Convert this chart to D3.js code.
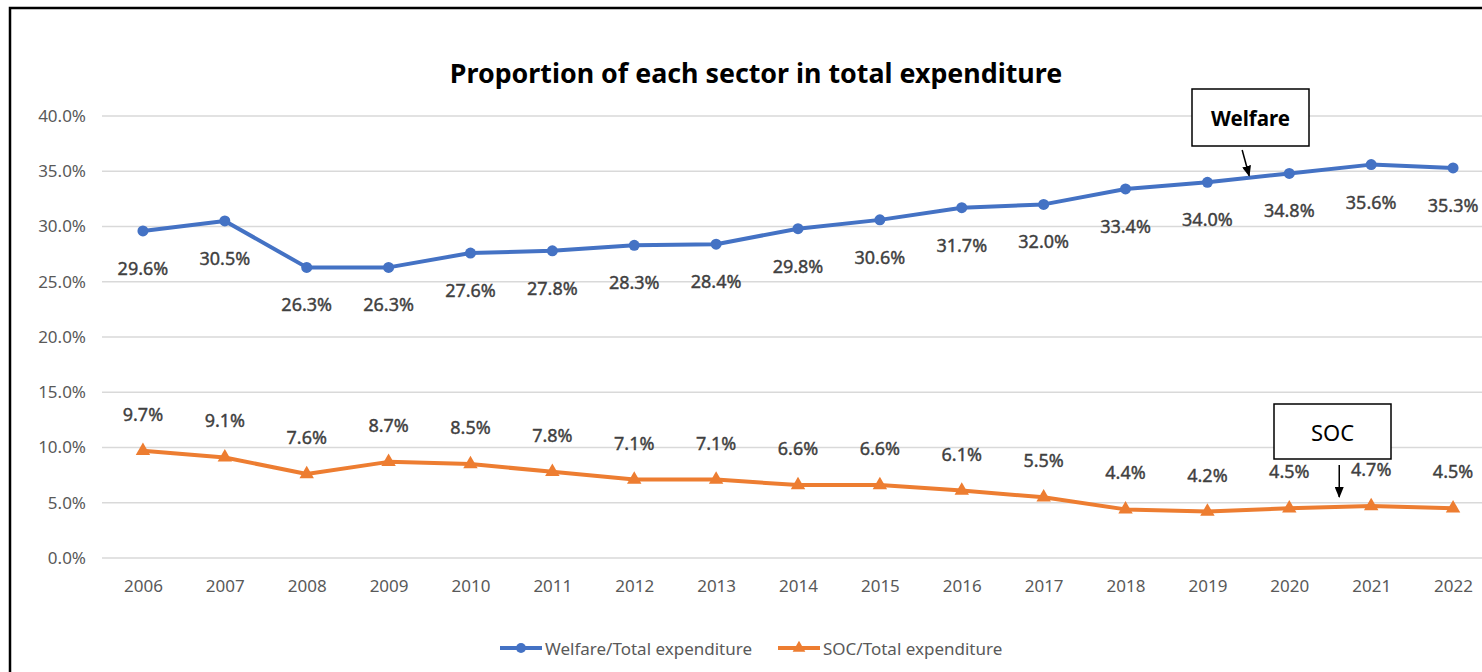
<!DOCTYPE html>
<html>
<head>
<meta charset="utf-8">
<script src="https://cdn.jsdelivr.net/npm/d3@7"></script>
<style>
  html, body { margin: 0; padding: 0; background: #fff; }
  svg { display: block; font-family: "Noto Sans", "DejaVu Sans", sans-serif; }
</style>
</head>
<body>
<svg id="chart" width="1482" height="672"></svg>
<script>
// Years on the category axis
const years = ["2006","2007","2008","2009","2010","2011","2012","2013","2014",
               "2015","2016","2017","2018","2019","2020","2021","2022"];
// Share of total expenditure, in percent
const welfareShare = [29.6, 30.5, 26.3, 26.3, 27.6, 27.8, 28.3, 28.4, 29.8,
                      30.6, 31.7, 32.0, 33.4, 34.0, 34.8, 35.6, 35.3];
const socShare = [9.7, 9.1, 7.6, 8.7, 8.5, 7.8, 7.1, 7.1, 6.6,
                  6.6, 6.1, 5.5, 4.4, 4.2, 4.5, 4.7, 4.5];
const yTicks = [0, 5, 10, 15, 20, 25, 30, 35, 40];
const seriesNames = ["Welfare/Total expenditure", "SOC/Total expenditure"];
const chartTitle = "Proportion of each sector in total expenditure";

const BLUE = "#4472C4", ORANGE = "#ED7D31";
const svg = d3.select("#chart");

// outer frame
svg.append("rect")
  .attr("x", 10).attr("y", 8).attr("width", 1520).attr("height", 720)
  .attr("fill", "none").attr("stroke", "#000").attr("stroke-width", 2.5);

const x = d3.scalePoint().domain(years).range([102, 1494]).padding(0.5);
const y = d3.scaleLinear().domain([0, 40]).range([558, 116]);

// title
svg.append("text")
  .attr("x", 756).attr("y", 72).attr("text-anchor", "middle")
  .attr("dominant-baseline", "central")
  .attr("font-size", 26.8).attr("font-weight", "bold").attr("fill", "#000")
  .text(chartTitle);

// horizontal gridlines
svg.append("g").selectAll("line").data(yTicks).join("line")
  .attr("x1", 102).attr("x2", 1494)
  .attr("y1", d => y(d)).attr("y2", d => y(d))
  .attr("stroke", "#d9d9d9").attr("stroke-width", 1.5);

// y axis labels
const yAxis = d3.axisLeft(y).tickValues(yTicks).tickSize(0).tickPadding(0)
  .tickFormat(d => d.toFixed(1) + "%");
svg.append("g").attr("transform", "translate(86,0)").call(yAxis)
  .call(g => g.select(".domain").remove())
  .call(g => g.selectAll("text").attr("font-size", 17).attr("fill", "#595959")
    .attr("font-family", "'Noto Sans', sans-serif"));

// x axis labels
const xAxis = d3.axisBottom(x).tickSize(0).tickPadding(0);
svg.append("g").attr("transform", "translate(0,580)").call(xAxis)
  .call(g => g.select(".domain").remove())
  .call(g => g.selectAll("text").attr("font-size", 17).attr("fill", "#595959")
    .attr("font-family", "'Noto Sans', sans-serif"));

const line = d3.line().x((d, i) => x(years[i])).y(d => y(d));

// welfare series
svg.append("path").datum(welfareShare).attr("d", line)
  .attr("fill", "none").attr("stroke", BLUE).attr("stroke-width", 4)
  .attr("stroke-linejoin", "round");
svg.append("g").selectAll("circle").data(welfareShare).join("circle")
  .attr("cx", (d, i) => x(years[i])).attr("cy", d => y(d)).attr("r", 5.5)
  .attr("fill", BLUE);

// SOC series
svg.append("path").datum(socShare).attr("d", line)
  .attr("fill", "none").attr("stroke", ORANGE).attr("stroke-width", 4)
  .attr("stroke-linejoin", "round");
const tri = d3.symbol().type(d3.symbolTriangle).size(90);
svg.append("g").selectAll("path").data(socShare).join("path")
  .attr("d", tri)
  .attr("transform", (d, i) => `translate(${x(years[i])},${y(d)})`)
  .attr("fill", ORANGE);

// value labels
const labelStyle = sel => sel
  .attr("text-anchor", "middle").attr("dominant-baseline", "central")
  .attr("font-size", 18).attr("fill", "#404040")
  .attr("stroke", "#404040").attr("stroke-width", 0.4);
svg.append("g").selectAll("text").data(welfareShare).join("text")
  .attr("x", (d, i) => x(years[i])).attr("y", d => y(d) + 37)
  .call(labelStyle)
  .text(d => d.toFixed(1) + "%");
svg.append("g").selectAll("text").data(socShare).join("text")
  .attr("x", (d, i) => x(years[i])).attr("y", d => y(d) - 37)
  .call(labelStyle)
  .text(d => d.toFixed(1) + "%");

// arrowhead marker
svg.append("defs").append("marker")
  .attr("id", "arrow").attr("viewBox", "0 0 10 10")
  .attr("refX", 9).attr("refY", 5)
  .attr("markerWidth", 11).attr("markerHeight", 9)
  .attr("markerUnits", "userSpaceOnUse")
  .attr("orient", "auto")
  .attr("preserveAspectRatio", "none")
  .append("path").attr("d", "M0,0 L10,5 L0,10 Z").attr("fill", "#000");

// callout: Welfare
const step = x.step();
const wf = 0.51;
const wx = x("2019") + wf * step;
const wy = y(welfareShare[13] + wf * (welfareShare[14] - welfareShare[13]));
svg.append("rect").attr("x", 1192).attr("y", 89).attr("width", 117).attr("height", 57)
  .attr("fill", "#fff").attr("stroke", "#000").attr("stroke-width", 1.5);
svg.append("text").attr("x", 1250.5).attr("y", 117.5)
  .attr("text-anchor", "middle").attr("dominant-baseline", "central")
  .attr("font-size", 20.5).attr("font-weight", "bold").attr("fill", "#000")
  .text("Welfare");
svg.append("line").attr("x1", wx - 7).attr("y1", 150).attr("x2", wx).attr("y2", wy - 2)
  .attr("stroke", "#000").attr("stroke-width", 1.5).attr("marker-end", "url(#arrow)");

// callout: SOC
const sf = 0.61;
const sx = x("2020") + sf * step;
const sy = y(socShare[14] + sf * (socShare[15] - socShare[14]));
svg.append("rect").attr("x", 1274).attr("y", 404).attr("width", 117).attr("height", 55)
  .attr("fill", "#fff").attr("stroke", "#000").attr("stroke-width", 1.5);
svg.append("text").attr("x", 1332.5).attr("y", 432)
  .attr("text-anchor", "middle").attr("dominant-baseline", "central")
  .attr("font-size", 22).attr("fill", "#000")
  .text("SOC");
svg.append("line").attr("x1", sx).attr("y1", 465).attr("x2", sx).attr("y2", sy - 10)
  .attr("stroke", "#000").attr("stroke-width", 1.5).attr("marker-end", "url(#arrow)");

// legend
const legend = svg.append("g");
const legendItems = [
  { name: seriesNames[0], color: BLUE, x0: 500, shape: "circle" },
  { name: seriesNames[1], color: ORANGE, x0: 778, shape: "triangle" }
];
legendItems.forEach(it => {
  const g = legend.append("g").attr("transform", `translate(${it.x0},648)`);
  g.append("line").attr("x1", 0).attr("x2", 42).attr("y1", 0).attr("y2", 0)
    .attr("stroke", it.color).attr("stroke-width", 4);
  if (it.shape === "circle") {
    g.append("circle").attr("cx", 21).attr("cy", 0).attr("r", 5).attr("fill", it.color);
  } else {
    g.append("path").attr("d", d3.symbol().type(d3.symbolTriangle).size(70))
      .attr("transform", "translate(21,0)").attr("fill", it.color);
  }
  g.append("text").attr("x", 45).attr("y", 0).attr("dominant-baseline", "central")
    .attr("font-size", 17).attr("fill", "#595959").text(it.name);
});
</script>
</body>
</html>
